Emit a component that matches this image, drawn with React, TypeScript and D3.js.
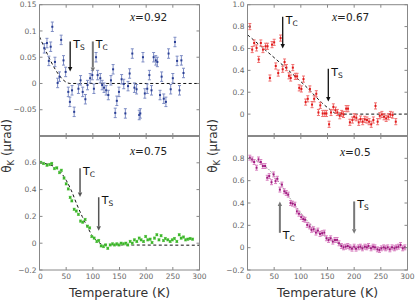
import React from 'react';
import * as d3 from 'd3';

// x = 0.92 (top left)
const tlTemp = [9, 14, 17.5, 21, 24, 29, 34, 37.5, 40.6, 45, 49, 54, 57, 61, 65, 73, 77, 81, 86, 90, 95, 99, 102, 106, 109, 114, 117.5, 121, 125, 129, 134, 138, 142, 145, 149, 154, 158, 161, 166, 169, 174, 178, 182, 187, 189, 194, 197.5, 202, 206, 210, 214, 218, 221, 226, 229, 233, 237, 242, 246, 250, 254, 258, 262.5, 266, 270];
const tlTheta = [0.067, 0.077, 0.043, 0.07, 0.108, 0.041, 0.001, 0.013, 0.083, 0.044, 0.022, -0.016, -0.035, -0.013, -0.054, -0.01, 0.006, -0.016, -0.03, -0.003, 0.01, 0.016, -0.01, 0.05, 0.016, 0.01, -0.003, -0.008, -0.013, -0.022, 0.006, 0.027, -0.056, -0.033, -0.016, 0.008, -0.001, -0.057, -0.005, 0.019, 0.057, -0.008, -0.011, -0.06, -0.057, 0.05, -0.019, -0.01, 0.016, -0.013, 0.05, 0.044, 0.041, -0.022, 0.013, -0.029, -0.035, 0.057, -0.011, 0.01, 0.079, 0.043, -0.013, 0.044, 0.02];
const tlFitT = [0, 58, 300];
const tlFitV = [0.089, 0, 0];

// x = 0.67 (top right)
const trTemp = [4.4, 8.8, 12.5, 17, 21, 25, 29, 34, 37.6, 42, 46, 50, 53, 57.6, 62, 66, 69.5, 73, 77.7, 81, 85, 89.6, 93, 97, 101, 105, 109, 113, 117, 121, 125, 129, 133, 136.5, 141, 145, 148, 153, 156.6, 161, 165, 168.5, 173, 176.6, 180, 185, 188.5, 192, 196.7, 200, 204, 208.6, 212, 216, 220, 224, 228, 232, 236, 240, 244, 248, 252, 256, 260, 264, 268, 272, 278];
const trTheta = [0.8, 0.59, 0.65, 0.605, 0.5, 0.65, 0.59, 0.62, 0.62, 0.33, 0.635, 0.656, 0.44, 0.375, 0.695, 0.41, 0.476, 0.425, 0.35, 0.33, 0.425, 0.345, 0.345, 0.24, 0.23, 0.32, 0.11, 0.14, 0.23, 0.087, 0.14, 0.186, 0.015, 0.08, 0.006, 0.006, 0.006, -0.093, 0.015, 0.066, 0.036, 0.015, -0.015, 0.006, -0.003, 0.05, 0.05, -0.075, -0.054, -0.024, -0.033, -0.075, -0.045, -0.069, -0.048, -0.054, -0.069, -0.093, -0.054, 0.075, -0.069, -0.015, -0.003, -0.024, -0.039, -0.024, -0.003, -0.009, -0.069];
const trFitT = [0, 108, 150, 170, 300];
const trFitV = [0.725, 0.26, 0.06, 0, 0];

// x = 0.75 (bottom left)
const blTemp = [2.5, 7.5, 14, 19, 23, 28, 32.5, 37.5, 41, 46, 50, 54, 57.5, 60.6, 65, 69, 73, 77, 81, 85.6, 90, 94, 98, 102.5, 107.5, 111, 115.6, 120, 124, 128, 132.5, 137, 140.6, 145, 149, 153, 157.5, 162, 165.6, 170, 174, 178, 182.5, 187, 190.6, 195, 199, 203, 207.5, 211, 215.6, 220, 224, 228, 232.5, 236, 240.6, 245, 249, 253, 257.5, 262, 265.6, 270, 274, 278, 282.5, 287];
const blTheta = [0.603, 0.595, 0.582, 0.587, 0.595, 0.557, 0.562, 0.527, 0.544, 0.486, 0.443, 0.405, 0.342, 0.316, 0.253, 0.24, 0.215, 0.165, 0.157, 0.177, 0.127, 0.114, 0.05, 0.038, 0.013, 0.02, -0.02, -0.025, -0.013, -0.038, -0.013, -0.005, -0.013, -0.005, -0.013, 0, -0.005, 0, -0.013, 0.013, 0, 0.025, 0.013, 0.038, 0.025, 0.013, 0.05, 0.025, 0.03, 0.005, 0.038, 0.063, 0.025, 0.056, 0.02, 0.035, 0.025, 0.013, 0.025, 0.035, 0.013, 0.063, 0.038, 0.046, 0.025, 0.03, 0.035, 0.03];
const blFitT = [0, 20, 35, 50, 60, 70, 80, 90, 100, 110, 120, 300];
const blFitV = [0.6, 0.585, 0.55, 0.47, 0.39, 0.29, 0.2, 0.12, 0.05, 0.01, -0.012, -0.015];

// x = 0.5 (bottom right)
const brTemp = [4.4, 8.8, 12.5, 17, 20.7, 25, 28.8, 33, 37, 40.7, 45, 49, 52.6, 56, 60.7, 64.5, 69, 72.7, 76.4, 80.8, 84.5, 89, 92.7, 96.5, 100.8, 104.6, 108, 112, 116.5, 120, 124, 128.4, 132, 136, 140, 144, 148, 152, 156, 160, 164, 168, 171.6, 176, 180, 184, 188, 192, 196, 200, 203.5, 208, 211.7, 215.5, 220, 223.6, 227, 231.7, 235.5, 239, 243.6, 247.4, 251, 255.5, 259, 263, 267, 271, 275.5, 279, 283, 287, 291, 295];
const brTheta = [0.806, 0.79, 0.767, 0.716, 0.79, 0.767, 0.731, 0.731, 0.626, 0.641, 0.586, 0.656, 0.596, 0.617, 0.52, 0.565, 0.505, 0.49, 0.475, 0.4, 0.394, 0.385, 0.325, 0.304, 0.274, 0.256, 0.25, 0.204, 0.19, 0.16, 0.165, 0.135, 0.153, 0.123, 0.13, 0.135, 0.084, 0.069, 0.084, 0.054, 0.069, 0.069, 0.039, 0.015, 0.003, 0.009, 0.015, 0.003, -0.009, 0.009, -0.009, 0.003, 0.009, -0.006, 0.009, 0.003, 0.015, -0.006, 0.009, 0.003, -0.015, -0.021, -0.006, 0.003, -0.006, 0.003, -0.015, 0.003, -0.006, 0.003, 0.009, 0.024, -0.006, 0.003];
const brFitT = [0, 20, 40, 60, 80, 100, 120, 140, 160, 180, 200, 300];
const brFitV = [0.8, 0.77, 0.7, 0.58, 0.44, 0.31, 0.2, 0.12, 0.06, 0.02, 0, 0];

const xTicks = [0, 50, 100, 150, 200, 250, 300];

const FONT = 'DejaVu Sans, sans-serif';

const Panel = ({ x0, x1, y0, y1, yDomain, yTicks, yFmt, temps, thetas, err, dot, bar, dotSize,
  fitT, fitV, fitStyle, label, labelX, labelY, arrows, showX, bottomThick }) => {
  const x = d3.scaleLinear().domain([0, 300]).range([x0, x1]);
  const y = d3.scaleLinear().domain(yDomain).range([y1, y0]);
  const line = d3.line().x(d => x(d[0])).y(d => y(d[1])).curve(d3.curveMonotoneX);
  const fit = fitT.map((t, i) => [t, fitV[i]]);
  return (
    <g>
      <path d={line(fit)} fill="none" stroke={fitStyle.color} strokeWidth={fitStyle.width} strokeDasharray={fitStyle.dash} />
      {temps.map((t, i) => (
        <g key={i}>
          {err > 0 && (
            <g stroke={bar} strokeWidth={1}>
              <line x1={x(t)} x2={x(t)} y1={y(thetas[i] - err)} y2={y(thetas[i] + err)} />
              <line x1={x(t) - 1.5} x2={x(t) + 1.5} y1={y(thetas[i] - err)} y2={y(thetas[i] - err)} />
              <line x1={x(t) - 1.5} x2={x(t) + 1.5} y1={y(thetas[i] + err)} y2={y(thetas[i] + err)} />
            </g>
          )}
          <rect x={x(t) - dotSize / 2} y={y(thetas[i]) - dotSize / 2} width={dotSize} height={dotSize} fill={dot} />
        </g>
      ))}
      {/* рамка и засечки */}
      <rect x={x0} y={y0} width={x1 - x0} height={y1 - y0} fill="none" stroke="#888" strokeWidth={1} />
      {bottomThick && <line x1={x0} x2={x1} y1={y1} y2={y1} stroke="#888" strokeWidth={2.2} />}
      {xTicks.slice(1, -1).map(t => (
        <g key={t} stroke="#888">
          <line x1={x(t)} x2={x(t)} y1={y1} y2={y1 - 3} />
          <line x1={x(t)} x2={x(t)} y1={y0} y2={y0 + 3} />
        </g>
      ))}
      {yTicks.map(v => (
        <g key={v}>
          <line x1={x0} x2={x0 + 3} y1={y(v)} y2={y(v)} stroke="#888" />
          <line x1={x1} x2={x1 - 3} y1={y(v)} y2={y(v)} stroke="#888" />
          <text x={x0 - 3} y={y(v)} dy="0.35em" textAnchor="end" fontSize={7.5} fill="#666" fontFamily={FONT}>{yFmt(v)}</text>
        </g>
      ))}
      {showX && xTicks.map(t => (
        <text key={t} x={x(t) + (t === 0 ? 1 : 0)} y={y1 + 9} textAnchor="middle" fontSize={7.5} fill="#666" fontFamily={FONT}>{t}</text>
      ))}
      <text x={labelX} y={labelY} fontSize={10.5} fill="#222" fontFamily={FONT}>
        <tspan fontFamily="Liberation Serif, serif" fontStyle="italic" fontSize={11.5}>x</tspan>=
        {label}
      </text>
      {arrows.map((a, i) => {
        const ax = x(a.t);
        const ya = y(a.from);
        const yb = y(a.to);
        const dir = yb > ya ? 1 : -1;
        const head = 4.5;
        return (
          <g key={i}>
            <line x1={ax} x2={ax} y1={ya} y2={yb - dir * head} stroke={a.color} strokeWidth={a.w} />
            <path d={`M${ax - 2.2},${yb - dir * head} L${ax + 2.2},${yb - dir * head} L${ax},${yb} Z`} fill={a.color} />
            <text x={ax + 3} y={(a.below ? Math.max(ya, yb) : Math.min(ya, yb)) + a.dy} fontSize={11} fill="#111" fontFamily={FONT}>
              T<tspan fontSize={7.5} dy={2}>{a.sub}</tspan>
            </text>
          </g>
        );
      })}
    </g>
  );
};

const fmt1 = v => (v === 0 ? '0' : d3.format('.1f')(v));
const fmt2 = v => (v === 0 ? '0' : v === 0.1 ? '0.1' : d3.format('.2f')(v));

export default function App() {
  return (
    <svg width={415} height={303} style={{ position: 'absolute', left: 0, top: 0, background: '#fff' }}>
      <Panel x0={39.5} x1={199.5} y0={4.7} y1={136} yDomain={[-0.1, 0.15]} yTicks={[-0.05, 0, 0.05, 0.1, 0.15]} yFmt={fmt2}
        temps={tlTemp} thetas={tlTheta} err={0.009} dot="#2a3f95" bar="#7d8cc4" dotSize={2}
        fitT={tlFitT} fitV={tlFitV} fitStyle={{ color: '#111', width: 1, dash: '3,2.5' }}
        label="0.92" labelX={130} labelY={21}
        arrows={[
          { t: 57.5, from: 0.08, to: 0.023, color: '#111', w: 1.3, sub: 'S', dy: 7 },
          { t: 100, from: 0.08, to: 0.022, color: '#777', w: 2, sub: 'C', dy: 7 },
        ]}
        bottomThick />
      <Panel x0={247.5} x1={407.5} y0={4.7} y1={136} yDomain={[-0.2, 1.0]} yTicks={[0, 0.2, 0.4, 0.6, 0.8, 1.0]} yFmt={fmt1}
        temps={trTemp} thetas={trTheta} err={0.028} dot="#e01a1a" bar="#f07070" dotSize={2}
        fitT={trFitT} fitV={trFitV} fitStyle={{ color: '#111', width: 1, dash: '3,2.5' }}
        label="0.67" labelX={332} labelY={21}
        arrows={[
          { t: 66, from: 0.89, to: 0.6, color: '#111', w: 1.3, sub: 'C', dy: 7 },
          { t: 151.5, from: 0.415, to: 0.115, color: '#111', w: 1.3, sub: 'S', dy: 7 },
        ]}
        bottomThick />
      <Panel x0={39.5} x1={199.5} y0={136} y1={270} yDomain={[-0.2, 0.8]} yTicks={[-0.2, 0, 0.2, 0.4, 0.6]} yFmt={fmt1}
        temps={blTemp} thetas={blTheta} err={0.008} dot="#3cb62a" bar="#8fd880" dotSize={2.4}
        fitT={blFitT} fitV={blFitV} fitStyle={{ color: '#111', width: 1, dash: '3,2.5' }}
        label="0.75" labelX={130} labelY={155}
        arrows={[
          { t: 76, from: 0.56, to: 0.345, color: '#555', w: 1.5, sub: 'C', dy: 7 },
          { t: 111, from: 0.343, to: 0.093, color: '#555', w: 1.5, sub: 'S', dy: 7 },
        ]}
        showX />
      <Panel x0={247.5} x1={407.5} y0={136} y1={270} yDomain={[-0.2, 1.0]} yTicks={[-0.2, 0, 0.2, 0.4, 0.6, 0.8]} yFmt={fmt1}
        temps={brTemp} thetas={brTheta} err={0.022} dot="#a01a80" bar="#d880c0" dotSize={2}
        fitT={brFitT} fitV={brFitV} fitStyle={{ color: '#666', width: 0.8, dash: '1.5,1.5' }}
        label="0.5" labelX={340} labelY={156}
        arrows={[
          { t: 60.7, from: 0.133, to: 0.414, color: '#777', w: 2, sub: 'C', dy: 6, below: true },
          { t: 200, from: 0.414, to: 0.124, color: '#777', w: 2, sub: 'S', dy: 7 },
        ]}
        showX />
      {/* подписи осей */}
      {[119.5, 327.5].map(cx => (
        <text key={cx} x={cx} y={297} textAnchor="middle" fontSize={12.5} fill="#333" fontFamily={FONT}>Temperature (K)</text>
      ))}
      {[11, 217].map(cx => (
        <text key={cx} transform={`translate(${cx},146) rotate(-90)`} textAnchor="middle" fontSize={12} fill="#333" fontFamily={FONT}>
          θ<tspan fontSize={8.5} dy={2.5}>K</tspan><tspan dy={-2.5}> (μrad)</tspan>
        </text>
      ))}
    </svg>
  );
}
